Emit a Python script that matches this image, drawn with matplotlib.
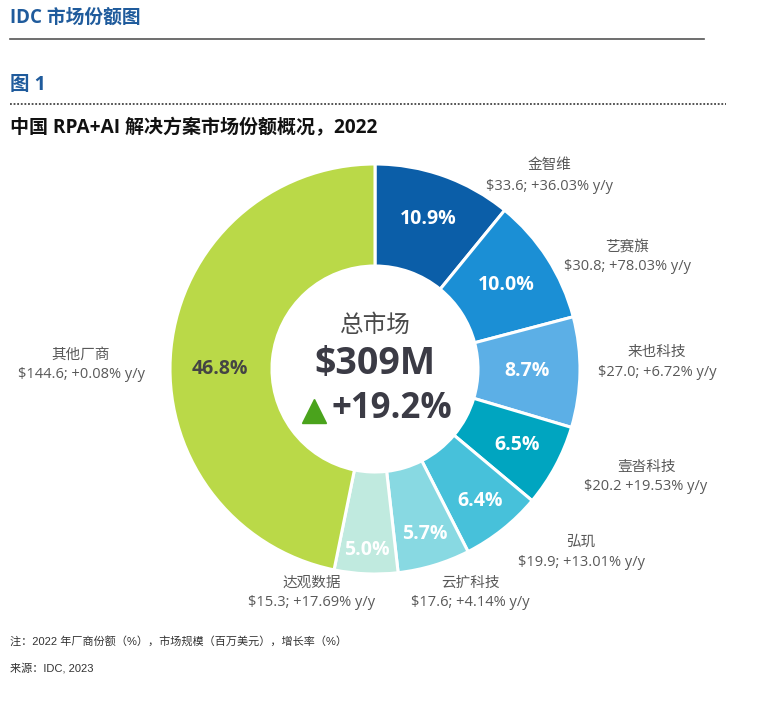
import matplotlib
matplotlib.use("Agg")
from matplotlib import pyplot as plt
import numpy as np

# --- donnees ---
vendors = ["金智维", "艺赛旗", "来也科技", "壹沓科技", "弘玑", "云扩科技", "达观数据", "其他厂商"]
shares = [10.9, 10.0, 8.7, 6.5, 6.4, 5.7, 5.0, 46.8]
revenue = ["$33.6;", "$30.8;", "$27.0;", "$20.2", "$19.9;", "$17.6;", "$15.3;", "$144.6;"]
growth = ["+36.03%", "+78.03%", "+6.72%", "+19.53%", "+13.01%", "+4.14%", "+17.69%", "+0.08%"]
total = "$309M"
total_growth = "+19.2%"

colors = ["#0b5ea8", "#1b8fd5", "#5cafe6", "#00a5c0", "#47c1da", "#88d9e2", "#c0eadf", "#bad948"]
pct_colors = ["white"] * 7 + ["#444444"]

# mise en page: rayon / decalage d'angle des pourcentages, etiquettes externes (pixels, y vers le bas)
pct_radius = [159, 156, 152, 161, 169, 172, 181, 155]
pct_shift = [0, 0, 0, 0, 0, 0, 0, 5.8]
label_pos = [(549, 166), (627, 247), (657, 352), (646, 467), (581, 542),
             (470, 583), (312, 583), (81, 355)]

W, H = 771, 720
LAT = ["Open Sans", "Noto Sans CJK SC", "DejaVu Sans"]
ARIAL = ["Liberation Sans", "Noto Sans CJK SC", "DejaVu Sans"]

def Y(y):
    return H - y

fig = plt.figure(figsize=(W / 100, H / 100), dpi=100)
ax = fig.add_axes([0, 0, 1, 1])

# anneau
cx, cy, R, r_in = 375, Y(369), 205, 103
wedges, _ = ax.pie(shares, colors=colors, startangle=90, counterclock=False,
                   center=(cx, cy), radius=R, frame=True,
                   wedgeprops=dict(width=R - r_in, edgecolor="white", linewidth=2.2))
ax.set_xlim(0, W)
ax.set_ylim(0, H)
ax.set_aspect("equal")
ax.axis("off")

ang = 90.0
for s, rr, sh, c in zip(shares, pct_radius, pct_shift, pct_colors):
    mid = ang - s * 3.6 / 2 + sh
    ang -= s * 3.6
    ax.text(cx + rr * np.cos(np.radians(mid)), cy + rr * np.sin(np.radians(mid)),
            f"{s:.1f}%", family=LAT, fontsize=14, fontweight="bold", color=c,
            ha="center", va="center")

# en-tete
ax.text(10, Y(18), "IDC 市场份额图", family=LAT, fontsize=13.5, fontweight="bold",
        color="#1f5b9c", va="center", ha="left")
ax.plot([10, 704], [Y(39), Y(39)], color="#555555", lw=1.2)
ax.text(10, Y(85), "图 1", family=LAT, fontsize=14, fontweight="bold",
        color="#1f5b9c", va="center", ha="left")
ax.plot([10, 726], [Y(104), Y(104)], color="#444444", lw=1.3, linestyle=(0, (1, 1)))
ax.text(10, Y(128), "中国 RPA+AI 解决方案市场份额概况，2022", family=LAT, fontsize=13.7,
        fontweight="bold", color="#111111", va="center", ha="left")

# centre
ax.text(cx, Y(326), "总市场", family=LAT, fontsize=17, color="#4a4a4a", ha="center", va="center")
ax.text(cx, Y(364), total, family=LAT, fontsize=27, fontweight="bold", color="#3b3b45",
        ha="center", va="center")
ax.plot([314], [Y(411)], marker="^", markersize=17, color="#4aa31c", linestyle="")
ax.text(392, Y(409), total_growth, family=LAT, fontsize=25, fontweight="bold",
        color="#3b3b45", ha="center", va="center")

# etiquettes externes
for name, rev, g, (x, y) in zip(vendors, revenue, growth, label_pos):
    ax.text(x, Y(y), name, family=LAT, fontsize=10.5, color="#595959", ha="center", va="center")
    ax.text(x, Y(y + 20), f"{rev} {g} y/y", family=LAT, fontsize=10.5, color="#595959",
            ha="center", va="center")

# notes
ax.text(10, Y(641), "注：2022 年厂商份额（%），市场规模（百万美元），增长率（%）", family=ARIAL,
        fontsize=8, color="#333333", ha="left", va="center")
ax.text(10, Y(668), "来源：IDC, 2023", family=ARIAL, fontsize=8, color="#333333",
        ha="left", va="center")

fig.savefig("out.png", dpi=100)
